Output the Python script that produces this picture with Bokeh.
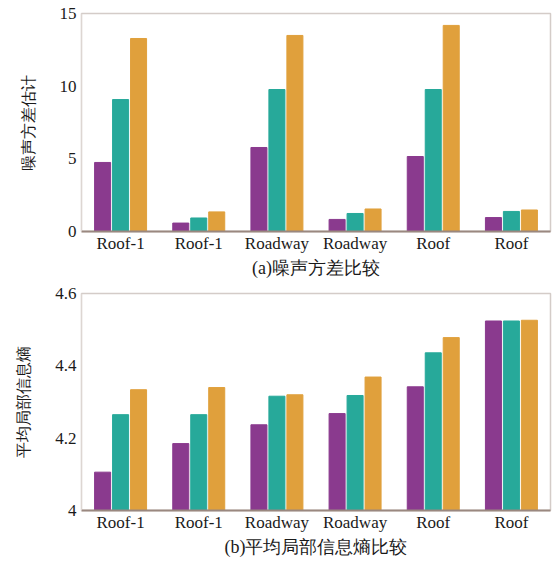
from bokeh.plotting import figure
from bokeh.layouts import column
from bokeh.models import ColumnDataSource, Range1d, FixedTicker
from bokeh.transform import dodge
from bokeh.embed import file_html
from bokeh.resources import INLINE

categories = ["Roof-1", "Roof-1", "Roadway", "Roadway", "Roof", "Roof"]

# (a) noise variance estimate
noise_s1 = [4.75, 0.58, 5.78, 0.83, 5.16, 0.96]
noise_s2 = [9.08, 0.93, 9.77, 1.24, 9.77, 1.38]
noise_s3 = [13.28, 1.35, 13.49, 1.55, 14.18, 1.48]
noise_ticks = [0, 5, 10, 15]

# (b) average local entropy
ent_s1 = [4.106, 4.185, 4.237, 4.268, 4.342, 4.524]
ent_s2 = [4.265, 4.265, 4.316, 4.318, 4.436, 4.524]
ent_s3 = [4.334, 4.340, 4.320, 4.369, 4.478, 4.526]
ent_ticks = [4.0, 4.2, 4.4, 4.6]
ent_tick_labels = ["4", "4.2", "4.4", "4.6"]

colors = ["#8a3a8e", "#27a99a", "#e0a03c"]
serif = "Liberation Serif"


def make(s1, s2, s3, yr, ticks, tick_labels, ylabel, caption, h, bl, bt, bb):
    p = figure(width=554, height=h, output_backend="svg", toolbar_location=None,
               x_range=Range1d(-0.5, 5.5), y_range=Range1d(*yr),
               min_border_left=bl, min_border_right=4, min_border_top=bt,
               min_border_bottom=bb)
    src = ColumnDataSource(dict(x=list(range(len(categories))), s1=s1, s2=s2, s3=s3))
    for key, off, c in (("s1", -0.23, colors[0]), ("s2", 0.0, colors[1]), ("s3", 0.23, colors[2])):
        p.vbar(x=dodge("x", off, range=p.x_range), top=key, bottom=yr[0], width=0.205,
               source=src, color=c)
    p.xgrid.visible = False
    p.ygrid.visible = False
    p.outline_line_color = "#d4ccc8"
    p.outline_line_width = 1.5
    p.background_fill_color = "white"

    p.xaxis.ticker = FixedTicker(ticks=list(range(len(categories))))
    p.xaxis.major_label_overrides = {i: c for i, c in enumerate(categories)}
    p.xaxis.major_tick_line_color = None
    p.xaxis.major_tick_out = 0
    p.xaxis.major_tick_in = 0
    p.xaxis.minor_tick_line_color = None
    p.xaxis.minor_tick_out = 0
    p.xaxis.axis_line_color = "#9a8880"
    p.xaxis.axis_line_width = 2
    p.xaxis.major_label_text_font = serif
    p.xaxis.major_label_text_font_size = "17px"
    p.xaxis.major_label_text_color = "#1a1a1a"
    p.xaxis.major_label_standoff = 2
    p.xaxis.axis_label = caption
    p.xaxis.axis_label_text_font = serif
    p.xaxis.axis_label_text_font_style = "normal"
    p.xaxis.axis_label_text_font_size = "18px"
    p.xaxis.axis_label_text_color = "#1a1a1a"
    p.xaxis.axis_label_standoff = 2

    p.yaxis.ticker = FixedTicker(ticks=ticks)
    p.yaxis.major_label_overrides = {t: l for t, l in zip(ticks, tick_labels)}
    p.yaxis.major_tick_line_color = None
    p.yaxis.major_tick_out = 0
    p.yaxis.major_tick_in = 0
    p.yaxis.minor_tick_line_color = None
    p.yaxis.minor_tick_out = 0
    p.yaxis.axis_line_color = "#ddd6d2"
    p.yaxis.major_label_text_font = serif
    p.yaxis.major_label_text_font_size = "17px"
    p.yaxis.major_label_text_color = "#1a1a1a"
    p.yaxis.major_label_standoff = 5
    p.yaxis.axis_label = ylabel
    p.yaxis.axis_label_text_font = serif
    p.yaxis.axis_label_text_font_style = "normal"
    p.yaxis.axis_label_text_font_size = "16px"
    p.yaxis.axis_label_text_color = "#1a1a1a"
    p.yaxis.axis_label_standoff = 20
    return p


p1 = make(noise_s1, noise_s2, noise_s3, (0, 15), noise_ticks, [str(t) for t in noise_ticks],
          "噪声方差估计", "(a)噪声方差比较", 282, 74, 13, 51)
p2 = make(ent_s1, ent_s2, ent_s3, (4.0, 4.6), ent_ticks, ent_tick_labels,
          "平均局部信息熵", "(b)平均局部信息熵比较", 287, 81, 11, 59)

layout = column(p1, p2, spacing=0)
open("out.html", "w").write(file_html(layout, INLINE))
